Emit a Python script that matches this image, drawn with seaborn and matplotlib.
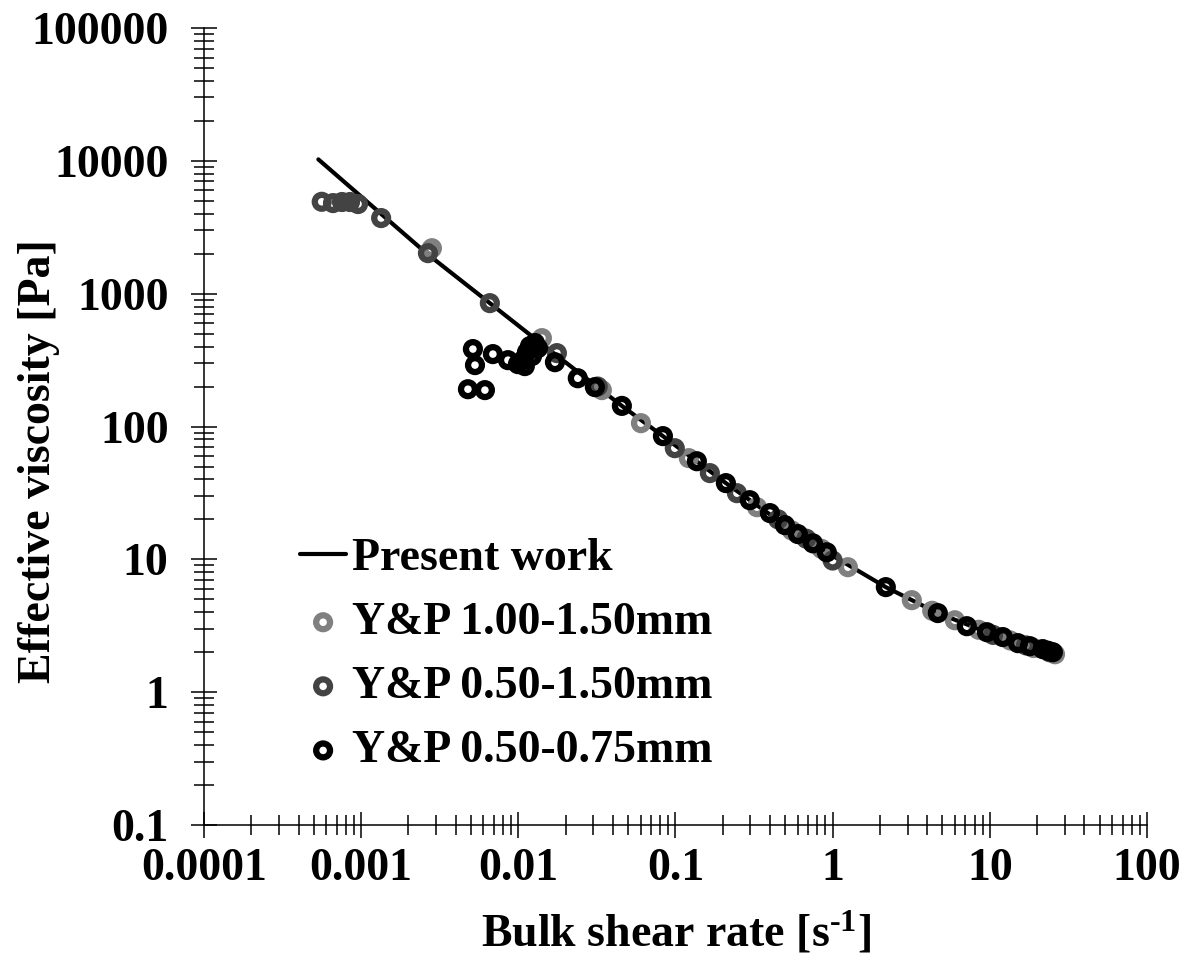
import matplotlib
matplotlib.use("Agg")
import matplotlib.pyplot as plt
import seaborn as sns
import numpy as np
import pandas as pd
from matplotlib.ticker import LogLocator, NullFormatter

# ---------------- data ----------------
line_x = [5.34e-4, 2.61e-3, 6.59e-3, 0.0124, 0.0456, 0.0832, 0.2093, 0.497, 0.918,
          2.18, 4.67, 9.58, 25.2]
line_y = [10260, 2010, 849, 471, 143, 84.7, 37.5, 18.1, 11.3, 6.18, 3.94, 2.83, 2.0]

lg_x = [0.00282, 0.01413, 0.0340, 0.0603, 0.1216, 0.330, 0.55, 0.85, 1.25, 3.19,
        4.3, 5.99, 8.5, 13.5, 19.0, 26.0]
lg_y = [2200, 463, 188, 106, 57.8, 24.7, 16.5, 12.0, 8.73, 4.93,
        4.1, 3.48, 2.95, 2.45, 2.15, 1.93]

dg_x = [0.000561, 0.000662, 0.000755, 0.000849, 0.000955, 0.00134, 0.00266, 0.00659,
        0.0176, 0.032, 0.099, 0.1655, 0.246, 0.45, 0.68, 1.0, 10.5, 17.0, 24.0]
dg_y = [4920, 4810, 4900, 4900, 4730, 3710, 2020, 849,
        357, 200, 68.7, 44.6, 31.5, 20.0, 14.3, 9.8, 2.7, 2.25, 2.0]

bk_x = [5.14e-3, 5.30e-3, 6.89e-3, 8.59e-3, 4.78e-3, 6.13e-3,
        9.94e-3, 0.0107, 0.01135, 0.01186, 0.01276, 0.01333, 0.01222, 0.0110,
        0.0171, 0.0239, 0.0307, 0.0456, 0.0832, 0.1368, 0.2093, 0.297, 0.399,
        0.497, 0.601, 0.749, 0.918, 2.18, 4.67, 7.14, 9.58, 12.1, 15.1, 18.0,
        21.7, 23.5, 25.2]
bk_y = [383, 290, 351, 316, 191, 188,
        295, 316, 363, 403, 425, 389, 339, 285,
        305, 231, 198, 143, 84.7, 54.8, 37.5, 27.9, 22.3,
        18.1, 15.5, 13.2, 11.3, 6.18, 3.94, 3.14, 2.83, 2.60, 2.34, 2.22,
        2.11, 2.05, 2.0]

x_ticks = [1e-4, 1e-3, 1e-2, 1e-1, 1, 10, 100]
x_labels = ["0.0001", "0.001", "0.01", "0.1", "1", "10", "100"]
y_ticks = [0.1, 1, 10, 100, 1000, 10000, 100000]
y_labels = ["0.1", "1", "10", "100", "1000", "10000", "100000"]

series_names = ["Present work", "Y&P 1.00-1.50mm", "Y&P 0.50-1.50mm", "Y&P 0.50-0.75mm"]
series_colors = ["#000000", "#808080", "#434343", "#000000"]

# ---------------- style ----------------
sns.set_style("ticks")
plt.rcParams["font.family"] = ["Liberation Serif", "DejaVu Serif"]
plt.rcParams["font.weight"] = "bold"
plt.rcParams["text.color"] = "black"
plt.rcParams["axes.labelcolor"] = "black"
plt.rcParams["xtick.color"] = "black"
plt.rcParams["ytick.color"] = "black"
plt.rcParams["mathtext.fontset"] = "custom"
plt.rcParams["mathtext.rm"] = "Liberation Serif:bold"
plt.rcParams["mathtext.it"] = "Liberation Serif:bold"
plt.rcParams["mathtext.bf"] = "Liberation Serif:bold"
plt.rcParams["mathtext.default"] = "rm"

FS = 33

fig = plt.figure(figsize=(11.93, 9.6), dpi=100)
ax = fig.add_axes([0.171, 0.1406, 0.7904, 0.8302])

df_line = pd.DataFrame({"x": line_x, "y": line_y})
sns.lineplot(data=df_line, x="x", y="y", color=series_colors[0], linewidth=3.0,
             ax=ax, label=series_names[0], sort=True, zorder=2)

for xs, ys, name, col, z in [(lg_x, lg_y, series_names[1], series_colors[1], 3),
                             (dg_x, dg_y, series_names[2], series_colors[2], 4),
                             (bk_x, bk_y, series_names[3], series_colors[3], 5)]:
    d = pd.DataFrame({"x": xs, "y": ys})
    sns.scatterplot(data=d, x="x", y="y", ax=ax, marker="o", s=100,
                    facecolor="none", edgecolor=col, linewidth=4.5,
                    label=name, zorder=z)

ax.set_xscale("log")
ax.set_yscale("log")
ax.set_xlim(1e-4, 100)
ax.set_ylim(0.1, 100000)

ax.set_xticks(x_ticks)
ax.set_xticklabels(x_labels)
ax.set_yticks(y_ticks)
ax.set_yticklabels(y_labels)
ax.xaxis.set_minor_locator(LogLocator(base=10, subs=np.arange(2, 10), numticks=20))
ax.yaxis.set_minor_locator(LogLocator(base=10, subs=np.arange(2, 10), numticks=20))
ax.xaxis.set_minor_formatter(NullFormatter())
ax.yaxis.set_minor_formatter(NullFormatter())

ax.tick_params(which="major", direction="inout", length=19, width=1.1,
               labelsize=FS, color="black", labelcolor="black", pad=7)
ax.tick_params(which="minor", direction="inout", length=14, width=1.1, color="black")
ax.tick_params(axis="y", which="major", pad=16)
for lab in ax.get_xticklabels() + ax.get_yticklabels():
    lab.set_fontweight("bold")

for s in ["top", "right"]:
    ax.spines[s].set_visible(False)
for s in ["left", "bottom"]:
    ax.spines[s].set_linewidth(1.1)
    ax.spines[s].set_color("black")

ax.set_xlabel(r"Bulk shear rate [s$^{\text{-}1}$]", fontsize=FS, fontweight="bold")
ax.set_ylabel("Effective viscosity [Pa]", fontsize=FS, fontweight="bold")
ax.xaxis.set_label_coords(0.5, -0.107)
ax.yaxis.set_label_coords(-0.153, 0.456)

leg = ax.legend(loc="upper left", bbox_to_anchor=(0.102, 0.36), frameon=False,
                fontsize=FS, handlelength=1.0, handletextpad=0.12,
                labelspacing=0.48, borderpad=0, borderaxespad=0)
for t in leg.get_texts():
    t.set_fontweight("bold")
    t.set_color("black")

fig.savefig("out.png", dpi=100, facecolor="white")
